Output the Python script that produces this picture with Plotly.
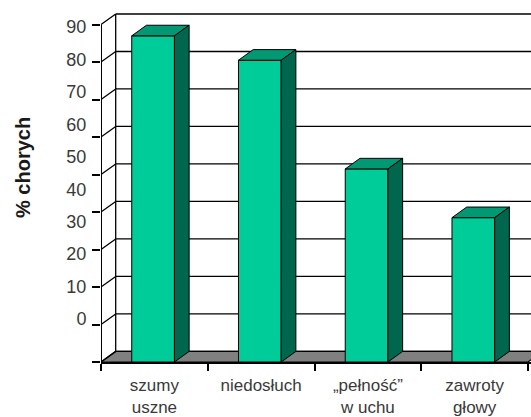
import plotly.graph_objects as go

# ---- data ----
categories = ["szumy<br>uszne", "niedosłuch", "„pełność”<br>w uchu", "zawroty<br>głowy"]
values = [87, 80.5, 51.5, 38.5]
tick_values = [0, 10, 20, 30, 40, 50, 60, 70, 80, 90]
tick_labels = ["0", "10", "20", "30", "40", "50", "60", "70", "80", "90"]
y_title = "% chorych"

# ---- layout constants ----
W, H = 531, 417
ML, MR, MT, MB = 101, 0, 10, 55
PW, PH = W - ML - MR, H - MT - MB
PX_X = 106.75          # px per category
PX_Y = 3.749           # px per value unit
X0 = -0.5
XMAX = X0 + PW / PX_X
YMAX = PH / PX_Y
DX = 14.7 / PX_X       # depth offset (data units)
DY = 10.6 / PX_Y
N = len(categories)
XEND = N - 0.5
HALF = 0.2
OFF = -0.012

FRONT = "#00CC99"
TOP = "#009973"
SIDE = "#00664D"
FLOOR = "#808080"
FONT = "Liberation Sans Narrow, Liberation Sans, Arial, sans-serif"
TICK_SIZE = 17

fig = go.Figure()

def poly(xs, ys, fill, lw=1.0, color="black"):
    fig.add_trace(go.Scatter(
        x=list(xs) + [xs[0]], y=list(ys) + [ys[0]], mode="lines", fill="toself",
        fillcolor=fill, line=dict(color=color, width=lw), hoverinfo="skip", showlegend=False))

def lines(xs, ys, lw=1.2, color="black"):
    fig.add_trace(go.Scatter(x=xs, y=ys, mode="lines", line=dict(color=color, width=lw),
                             hoverinfo="skip", showlegend=False))

# floor
poly([X0, XEND, XEND + DX, X0 + DX], [0, 0, DY, DY], FLOOR, lw=1.2)

# back wall gridlines + left edges
gx, gy = [], []
for v in tick_values:
    gx += [X0 + DX, XEND + DX, None]
    gy += [v + DY, v + DY, None]
    gx += [X0, X0 + DX, None]
    gy += [v, v + DY, None]
gx += [X0 + DX, X0 + DX, None]
gy += [DY, max(tick_values) + DY, None]
lines(gx, gy, lw=1.3)

# front vertical axis line
lines([X0, X0], [0, max(tick_values)], lw=2)

# bars
for i, v in enumerate(values):
    xl = i + OFF - HALF
    xr = i + OFF + HALF
    poly([xl, xr, xr, xl], [0, 0, v, v], FRONT)
    poly([xl, xr, xr + DX, xl + DX], [v, v, v + DY, v + DY], TOP)
    poly([xr, xr + DX, xr + DX, xr], [0, DY, v + DY, v], SIDE)

# label-only overlay axes (tick labels are placed with their own scale)
LBL0 = 362 - 319          # px above plot bottom for label "0"
LBL_STEP = 292 / 90       # px per label unit
fig.add_trace(go.Scatter(x=[None], y=[None], xaxis="x2", yaxis="y2", mode="markers",
                         hoverinfo="skip", showlegend=False))

fig.update_layout(
    width=W, height=H,
    margin=dict(l=ML, r=MR, t=MT, b=MB, pad=0, autoexpand=False),
    paper_bgcolor="white", plot_bgcolor="white",
    showlegend=False,
    font=dict(family=FONT, color="#3a3a3a", size=TICK_SIZE),
    xaxis=dict(range=[X0, XMAX], tickmode="array", tickvals=list(range(N)), ticktext=categories,
               ticks="", showgrid=False, zeroline=False, showline=True, linecolor="black",
               linewidth=1.5, ticklabelstandoff=7, automargin=False,
               tickfont=dict(family=FONT, size=TICK_SIZE, color="#3a3a3a"),
               minor=dict(tickmode="array", tickvals=[X0 + k for k in range(N + 1)],
                          ticks="outside", ticklen=7, tickwidth=1.5, tickcolor="black"),
               fixedrange=True),
    yaxis=dict(range=[0, YMAX], tickmode="array", tickvals=tick_values, showticklabels=False,
               ticks="outside", ticklen=8, tickwidth=1.5, tickcolor="black", automargin=False,
               showgrid=False, zeroline=False, showline=False, fixedrange=True),
    xaxis2=dict(overlaying="x", range=[X0, XMAX], visible=False, fixedrange=True, automargin=False),
    yaxis2=dict(overlaying="y", side="left", anchor="x2", automargin=False,
                range=[-LBL0 / LBL_STEP, (PH - LBL0) / LBL_STEP],
                tickmode="array", tickvals=tick_values, ticktext=tick_labels,
                ticks="outside", ticklen=10, tickcolor="rgba(0,0,0,0)",
                showgrid=False, zeroline=False, showline=False,
                tickfont=dict(family=FONT, size=TICK_SIZE + 1, color="#3a3a3a"), fixedrange=True),
    annotations=[dict(text="<b>" + y_title + "</b>", textangle=-90, xref="paper", yref="paper",
                      x=(23 - ML) / PW, y=(H - MB - 168) / PH, showarrow=False,
                      font=dict(family=FONT, size=20, color="#1a1a1a"),
                      xanchor="center", yanchor="middle")],
)

fig.write_html("out.html")
